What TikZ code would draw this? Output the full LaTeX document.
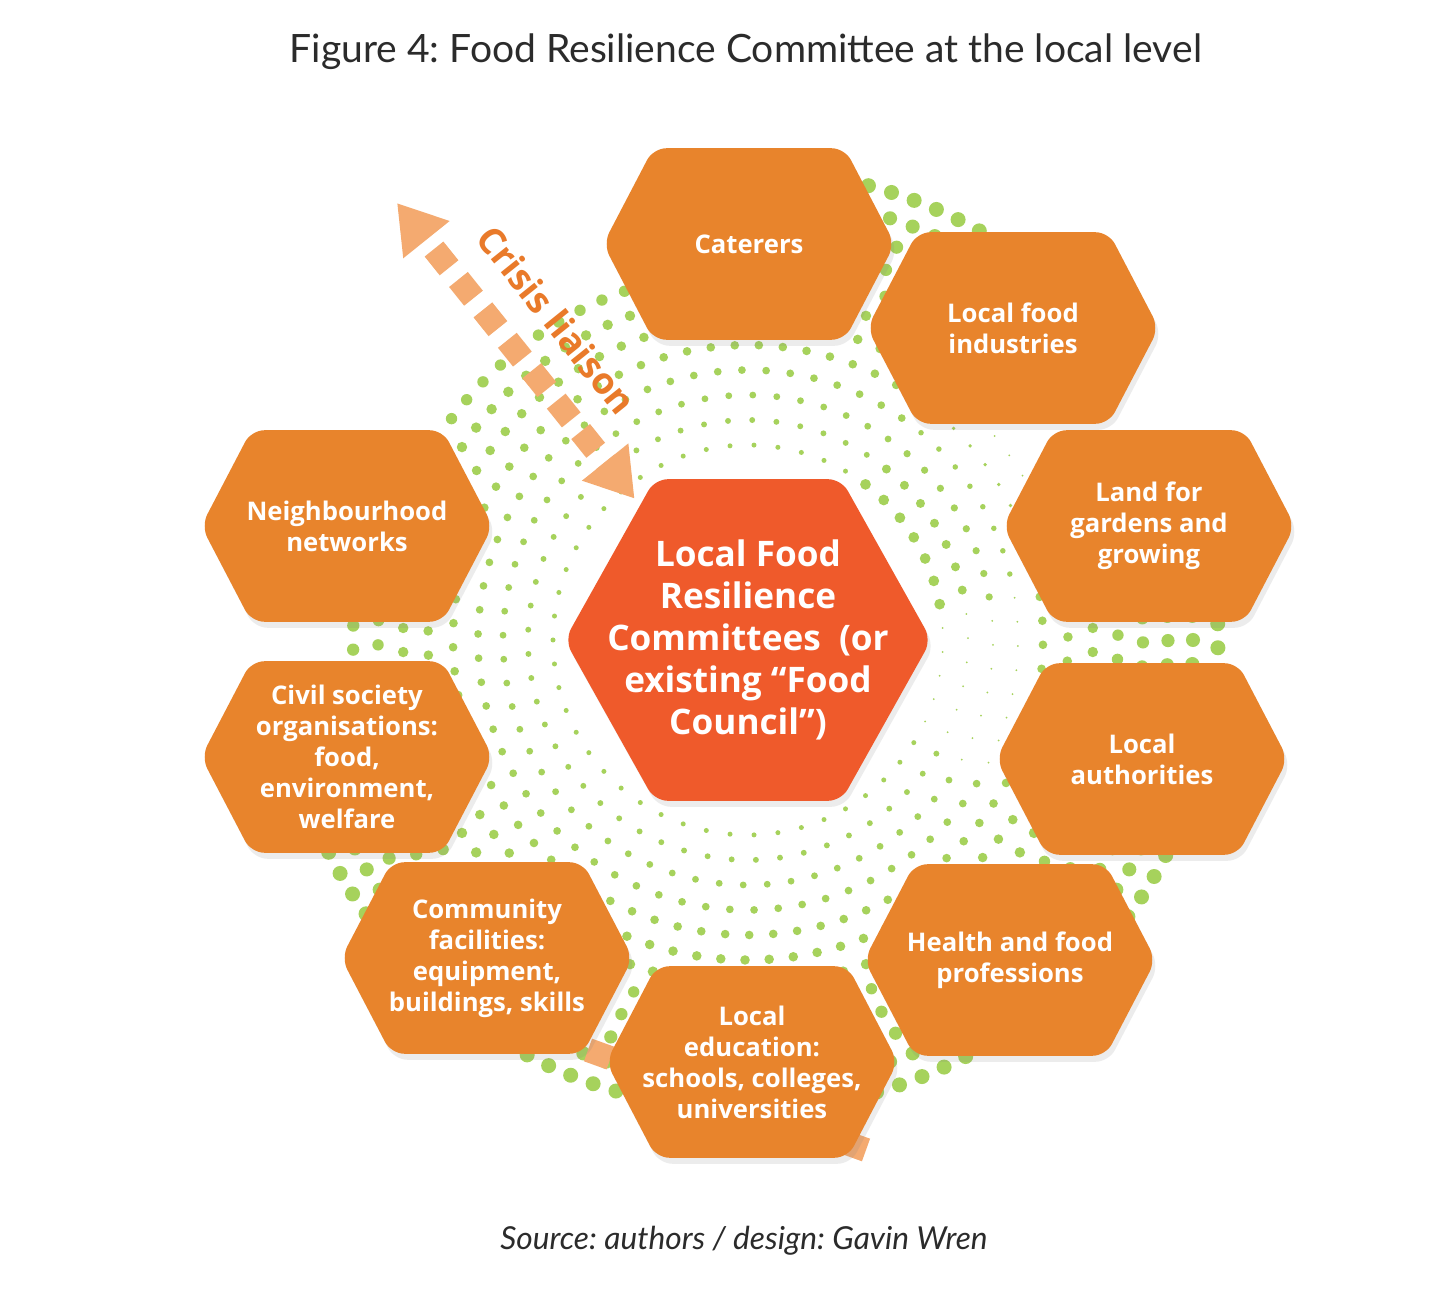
\documentclass[tikz,border=0pt]{standalone}
\usepackage{fontspec}
\setmainfont{Lato}
\newfontfamily\cellfont{Open Sans}
\usepackage{tikz}
\usetikzlibrary{arrows.meta, shadows}
\definecolor{cellorange}{HTML}{E8842C}
\definecolor{corered}{HTML}{EF5A2B}
\definecolor{halogreen}{HTML}{A6D25C}
\definecolor{liaisonpeach}{HTML}{F4AA70}
\definecolor{liaisontext}{HTML}{E97A2A}
\definecolor{titlegrey}{HTML}{2B2B2B}
\pgfdeclarelayer{dotlayer}
\pgfdeclarelayer{celllayer}
\pgfsetlayers{dotlayer,celllayer,main}
\frenchspacing
\tikzset{
    cell/.style={
        inner sep=0pt,
        minimum width=29mm,
        minimum height=19mm,
        align=center,
        text=white,
        font=\cellfont\bfseries\fontsize{7.3}{8.8}\selectfont
    },
    core/.style={
        cell,
        minimum width=36.5mm,
        minimum height=32mm,
        font=\cellfont\bfseries\fontsize{10}{11.95}\selectfont
    },
    hexfill/.style={
        fill=cellorange,
        rounded corners=1.3mm,
        drop shadow={opacity=0.15, shadow xshift=0.3mm, shadow yshift=-0.6mm}
    },
    halo/.style={fill=halogreen},
    liaisonline/.style={
        draw=liaisonpeach,
        line width=2.4mm,
        dash pattern=on 2.4mm off 1.5mm
    },
    liaison/.style={
        liaisonline,
        dash phase=2.4mm,
        {Triangle[length=4.7mm, width=5.6mm]}-{Triangle[length=4.7mm, width=5.6mm]}
    },
}

\begin{document}
\begin{tikzpicture}[x=0.01cm, y=-0.01cm]
    \useasboundingbox (0,0) rectangle (1456,1291);

    \node[text=titlegrey, font=\fontsize{11.1}{13}\selectfont] (title) at (746,52)
        {Figure 4: Food Resilience Committee at the local level};
    \node[text=titlegrey, font=\itshape\fontsize{9}{11}\selectfont] (source) at (744,1241)
        {Source: authors / design: Gavin Wren};

    \node[core] (committee) at (748,640)
        {Local Food\\Resilience\\Committees\ \ (or\\existing “Food\\Council”)};
    \node[cell] (cater) at (749,244) {Caterers};
    \node[cell] (industry) at (1013,328) {Local food\\industries};
    \node[cell] (land) at (1149,526) {Land for\\gardens and\\growing};
    \node[cell] (authority) at (1142,759) {Local\\authorities};
    \node[cell] (health) at (1010,960) {Health and food\\professions};
    \node[cell] (education) at (752,1062) {Local\\education:\\schools, colleges,\\universities};
    \node[cell] (community) at (487,958) {Community\\facilities:\\equipment,\\buildings, skills};
    \node[cell] (civil) at (347,757) {Civil society\\organisations:\\food,\\environment,\\welfare};
    \node[cell] (neighbour) at (347,526) {Neighbourhood\\networks};

    \coordinate (liaisonfar) at (397,203);
    \coordinate (hiddenA) at (588,1050);
    \coordinate (hiddenB) at (866,1150);

    \begin{pgfonlayer}{dotlayer}
        \fill[white] (0,0) rectangle (1456,1291);
        % halftone ring round the committee
        \foreach \k in {0,...,11}{
            \pgfmathsetmacro\ringrad{195+25*\k}
            \pgfmathtruncatemacro\ringdots{2*pi*\ringrad/24}
            \foreach \i in {1,...,\ringdots}{
                \pgfmathsetmacro\dotang{mod(\i/\ringdots*360+9*\k,360)-180}
                \pgfmathsetmacro\dotsize{(\dotang>-165 && \dotang<-100 && \ringrad>370) ? 0 : (((\dotang>168 || \dotang<-165) && \ringrad>400) ? 0 : ((\dotang>-55 && \dotang<-10) ? 4.5-0.035*(\ringrad-220) : ((\dotang>-10 && \dotang<30 && \ringrad<290) ? 1 : 2.5+5*(\ringrad-195)/275)))}
                \ifdim\dotsize pt>0.5pt
                    \fill[halo] (committee.center) ++(\dotang:\ringrad) circle[radius=0.1mm*\dotsize];
                \fi
            }
        }
        \draw[liaisonline] (hiddenA) -- (hiddenB);
        \draw[liaison, shorten >=-2.5mm] (liaisonfar) -- node[sloped, pos=0.54, above=2.5mm, inner sep=0pt,
            text=liaisontext, font=\cellfont\bfseries\fontsize{10.4}{12}\selectfont] (crisis) {Crisis liaison} (committee);
    \end{pgfonlayer}

    \begin{pgfonlayer}{celllayer}
        \foreach \c in {cater, industry, land, authority, health, education, community, civil, neighbour}
            \fill[hexfill] (\c.west) -- ([xshift=5mm]\c.north west) -- ([xshift=-5mm]\c.north east)
                -- (\c.east) -- ([xshift=-5mm]\c.south east) -- ([xshift=5mm]\c.south west) -- cycle;
        \fill[hexfill, fill=corered] (committee.west) -- ([xshift=9mm]committee.north west)
            -- ([xshift=-9mm]committee.north east) -- (committee.east)
            -- ([xshift=-9mm]committee.south east) -- ([xshift=9mm]committee.south west) -- cycle;
    \end{pgfonlayer}
\end{tikzpicture}
\end{document}
